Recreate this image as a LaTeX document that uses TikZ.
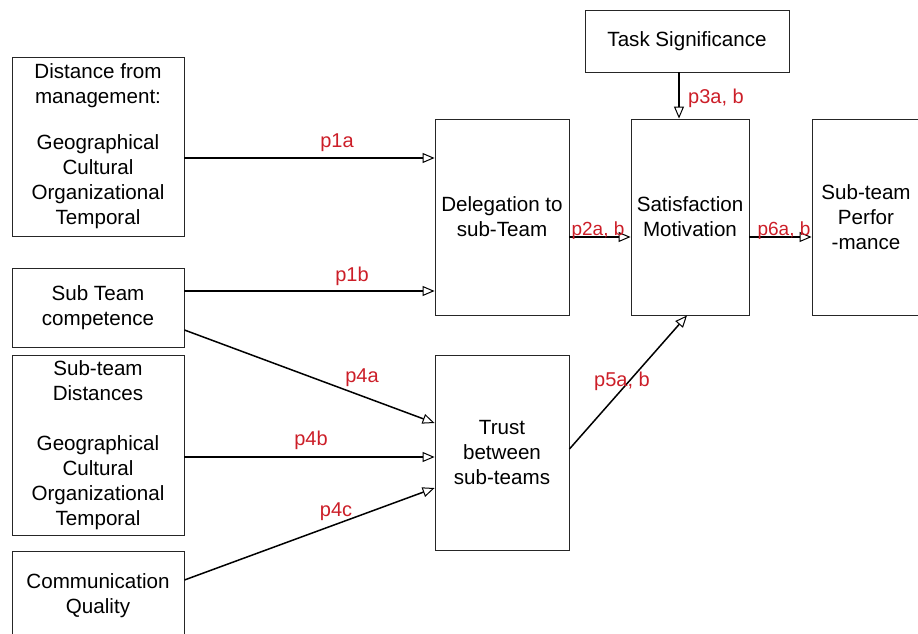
\documentclass[tikz,border=0pt]{standalone}
\usepackage{fontspec}
\setmainfont{Liberation Sans}
\usetikzlibrary{arrows.meta,calc}
\definecolor{lblred}{RGB}{204,30,40}
\begin{document}
\begin{tikzpicture}[x=1pt,y=-1pt,
  box/.style={draw=black!85, line width=0.9pt, inner sep=0pt, align=center,
    font=\fontsize{20.6}{25}\selectfont},
  arr/.style={line width=1.5pt, -{Triangle[open,length=12pt,width=10pt,line width=1pt]}},
  lbl/.style={text=lblred, font=\fontsize{20}{22}\selectfont, inner sep=0pt},
  slbl/.style={text=lblred, font=\fontsize{19}{20}\selectfont, inner sep=0pt}]
\useasboundingbox (0,0) rectangle (918,634);
\clip (0,0) rectangle (918,634);
% left column
\node[box, minimum width=172pt, minimum height=179pt] (A) at (98,146.5)
  {Distance from\\management:\\[21pt]Geographical\\Cultural\\Organizational\\Temporal};
\node[box, minimum width=172pt, minimum height=79pt] (B) at (98,307.5)
  {Sub Team\\competence};
\node[box, minimum width=172pt, minimum height=180pt] (C) at (98,445)
  {Sub-team\\Distances\\[25pt]Geographical\\Cultural\\Organizational\\Temporal};
\node[box, minimum width=172pt, minimum height=110pt, anchor=north] (D) at (98,551) {};
\node[box, draw=none] (Dt) at (98,596) {Communication\\Quality};
% middle
\node[box, minimum width=134pt, minimum height=196pt] (Del) at (502,217)
  {Delegation to\\sub-Team};
\node[box, minimum width=134pt, minimum height=195pt] (Tr) at (502,452.5)
  {Trust\\between\\sub-teams};
\node[box, minimum width=118pt, minimum height=196pt] (Sat) at (690,217)
  {Satisfaction\\Motivation};
\node[box, minimum width=204pt, minimum height=62pt] (Task) at (687,41)
  {Task Significance};
\node[box, minimum width=108pt, minimum height=196pt] (Perf) at (866,217)
  {Sub-team\\Perfor\\-mance};
% arrows
\draw[arr] ([yshift=-11.5pt]A.east) -- ([yshift=59pt]Del.west);
\draw[arr] ([yshift=16.5pt]B.east) -- ([yshift=-74pt]Del.west);
\draw[arr] ([yshift=-22.5pt]B.east) -- ([yshift=29.5pt]Tr.west);
\draw[arr] ([yshift=-12pt]C.east) -- ([yshift=-4.5pt]Tr.west);
\draw[arr] ($(D.north east)+(0,29)$) -- ([yshift=-35.5pt]Tr.west);
\draw[arr] ([yshift=-20pt]Del.east) -- ([yshift=-20pt]Sat.west);
\draw[arr] ([yshift=-20pt]Sat.east) -- ([yshift=-20pt]Perf.west);
\draw[arr] ([xshift=-8pt]Task.south) -- ([xshift=-11pt]Sat.north);
\draw[arr] ([yshift=3.5pt]Tr.east) -- ([xshift=-3pt]Sat.south);
% labels
\node[lbl] (l1a) at (337,143) {p1a};
\node[lbl] (l1b) at (352,276) {p1b};
\node[lbl] (l4a) at (362,378) {p4a};
\node[lbl] (l4b) at (311,440) {p4b};
\node[lbl] (l4c) at (336,512) {p4c};
\node[slbl] (l2a) at (598,231) {p2a, b};
\node[slbl] (l6a) at (784,231) {p6a, b};
\node[lbl] (l3a) at (716,98) {p3a, b};
\node[lbl] (l5a) at (622,381) {p5a, b};
\end{tikzpicture}
\end{document}
